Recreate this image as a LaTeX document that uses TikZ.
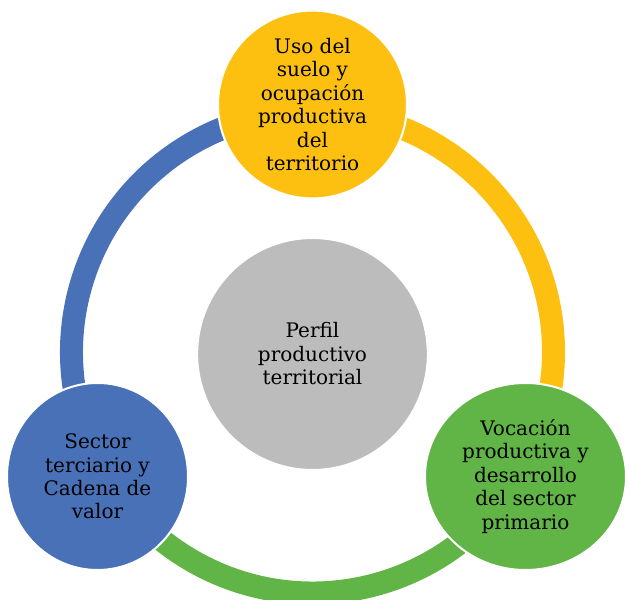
\documentclass[tikz,border=0pt]{standalone}
\usepackage{fontspec}
\setmainfont{DejaVu Serif}
\usetikzlibrary{shapes.geometric,backgrounds}

\definecolor{gold}{RGB}{253,192,16}
\definecolor{leaf}{RGB}{97,180,70}
\definecolor{steel}{RGB}{72,113,183}
\definecolor{stone}{RGB}{188,188,188}

\begin{document}
\begin{tikzpicture}[x=0.75pt,y=0.75pt,
    topic/.style={ellipse, draw=white, line width=1.5pt, inner sep=0pt, align=center,
                  font=\fontsize{15}{17.6}\selectfont},
    ring/.style={line width=17.25pt}]
    \useasboundingbox (0,0) rectangle (625,600);
    \coordinate (hub) at (312.5,248);
    \node[topic, fill=stone, minimum width=173pt, minimum height=174pt]   (perfil)   at (312.5,246)
         {Perfil\\productivo\\territorial};
    \node[topic, fill=gold, minimum width=141.75pt, minimum height=138.75pt] (suelo)  at (312.5,495.5)
         {Uso del\\suelo y\\ocupación\\productiva\\del\\territorio};
    \node[topic, fill=leaf, minimum width=150.75pt, minimum height=140.25pt] (vocacion) at (525.5,123.5)
         {Vocación\\productiva y\\desarrollo\\del sector\\primario};
    \node[topic, fill=steel, minimum width=135.75pt, minimum height=140.25pt] (terciario) at (97.5,123.5)
         {Sector\\terciario y\\Cadena de\\valor};
    % ring behind the circles
    \begin{scope}[on background layer]
      \draw[ring, gold]  (hub) ++(90:180.75pt)  arc[start angle=90,  end angle=-30,  radius=180.75pt];
      \draw[ring, leaf]  (hub) ++(-30:180.75pt) arc[start angle=-30, end angle=-150, radius=180.75pt];
      \draw[ring, steel] (hub) ++(210:180.75pt) arc[start angle=210, end angle=90,   radius=180.75pt];
    \end{scope}
\end{tikzpicture}
\end{document}
